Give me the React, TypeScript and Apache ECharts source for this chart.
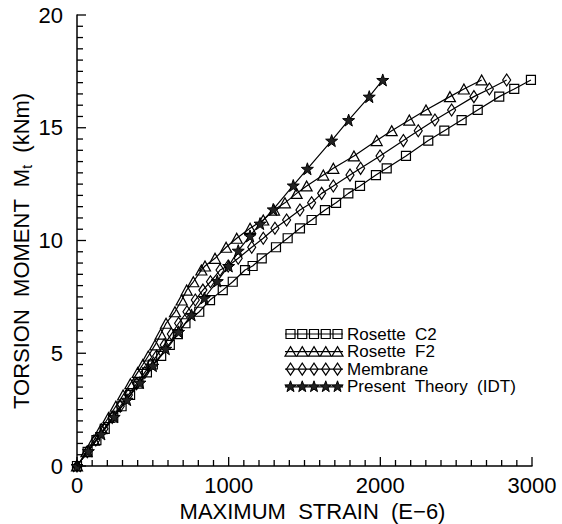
import React, { useEffect, useRef } from "react";
import * as echarts from "echarts";

// Common load levels (torsion moment, kNm) for measured series
const momentLevels = [0, 0.63, 1.15, 1.65, 2.15, 2.65, 3.15, 3.65, 4.15, 4.5, 4.88, 5.37, 5.85, 6.33, 6.84, 7.36, 7.8, 8.17, 8.69, 8.87, 9.21, 9.7, 10.1, 10.54, 10.91, 11.35, 11.67, 12.09, 12.42, 12.9, 13.2, 13.75, 14.43, 14.87, 15.34, 15.79, 16.38, 16.72, 17.12];

const rosetteC2Strain = [0, 70, 128, 183, 239, 294, 350, 405, 461, 500, 555, 612, 665, 715, 806, 877, 961, 1027, 1108, 1158, 1218, 1312, 1389, 1470, 1547, 1635, 1708, 1789, 1866, 1971, 2042, 2169, 2316, 2422, 2536, 2642, 2784, 2883, 2993];
const rosetteF2Strain = [0, 62, 112, 160, 208, 256, 304, 352, 400, 434, 470, 515, 552, 587, 646, 690, 723, 767, 820, 844, 910, 983, 1053, 1141, 1228, 1299, 1371, 1448, 1514, 1624, 1690, 1826, 1976, 2075, 2191, 2301, 2459, 2551, 2668];
const membraneStrain = [0, 68, 124, 178, 232, 285, 339, 393, 447, 485, 525, 575, 622, 670, 725, 780, 830, 880, 943, 997, 1063, 1152, 1228, 1305, 1382, 1470, 1547, 1613, 1690, 1800, 1870, 1998, 2152, 2250, 2360, 2470, 2617, 2719, 2833];

const theoryStrain = [0, 75, 160, 245, 330, 415, 500, 585, 670, 755, 840, 925, 1000, 1063, 1141, 1207, 1294, 1426, 1519, 1679, 1791, 1927, 2016];
const theoryMoment = [0, 0.66, 1.42, 2.18, 2.94, 3.7, 4.45, 5.2, 5.95, 6.7, 7.45, 8.2, 8.87, 9.55, 10.2, 10.75, 11.38, 12.44, 13.18, 14.43, 15.34, 16.38, 17.12];

const seriesNames = ["Rosette  C2", "Rosette  F2", "Membrane", "Present  Theory  (IDT)"];
const xTicks = [0, 1000, 2000, 3000];
const yTicks = [0, 5, 10, 15, 20];
const xMinorStep = 100;
const yMinorStep = 0.5;

const FONT = "Liberation Sans, Arial, sans-serif";
const STAR_PATH =
  "path://M10,0 L12.35,6.76 L19.51,6.91 L13.8,11.24 L15.88,18.09 L10,14 L4.12,18.09 L6.2,11.24 L0.49,6.91 L7.65,6.76 Z";

function starPoints(cx: number, cy: number, r: number): number[][] {
  const pts: number[][] = [];
  for (let i = 0; i < 10; i++) {
    const a = -Math.PI / 2 + (i * Math.PI) / 5;
    const rr = i % 2 === 0 ? r : r * 0.4;
    pts.push([cx + rr * Math.cos(a), cy + rr * Math.sin(a)]);
  }
  return pts;
}

function legendMarker(kind: number, cx: number, cy: number): any {
  const style = { fill: "none", stroke: "#000", lineWidth: 1.2 };
  if (kind === 0) return { type: "rect", shape: { x: cx - 4.5, y: cy - 4.5, width: 9, height: 9 }, style };
  if (kind === 1)
    return { type: "polygon", shape: { points: [[cx, cy - 5], [cx + 5.5, cy + 4.5], [cx - 5.5, cy + 4.5]] }, style };
  if (kind === 2)
    return { type: "polygon", shape: { points: [[cx, cy - 6], [cx + 4, cy], [cx, cy + 6], [cx - 4, cy]] }, style };
  return { type: "polygon", shape: { points: starPoints(cx, cy, 6) }, style: { fill: "#222", stroke: "#000", lineWidth: 1 } };
}

export default function App() {
  const ref = useRef<HTMLDivElement>(null);
  useEffect(() => {
    if (!ref.current) return;
    const chart = echarts.init(ref.current, undefined, { renderer: "svg" });

    const mk = (xs: number[], ys: number[]) => xs.map((x, i) => [x, ys[i]]);
    const lineStyle = { color: "#000", width: 1.2 };
    const itemStyle = { color: "rgba(255,255,255,0)", borderColor: "#000", borderWidth: 1.2 };

    const legendX = 285;
    const legendY0 = 334;
    const legendDy = 17.6;
    const graphics: any[] = [];
    seriesNames.forEach((name, k) => {
      const y = legendY0 + k * legendDy;
      graphics.push({ type: "line", shape: { x1: legendX, y1: y, x2: legendX + 58, y2: y }, style: { stroke: "#000", lineWidth: 1.2 } });
      for (let j = 0; j < 5; j++) graphics.push(legendMarker(k, legendX + 5.5 + j * 11.75, y));
      graphics.push({
        type: "text",
        x: legendX + 62,
        y,
        style: { text: name, fill: "#000", font: `17px ${FONT}`, verticalAlign: "middle" },
      });
    });
    // Y axis title (rotated, with subscript t)
    graphics.push({
      type: "text",
      x: 21,
      y: 251,
      rotation: Math.PI / 2,
      style: {
        text: "{a|TORSION  MOMENT  M}{s|t}{a|  (kNm)}",
        align: "center",
        verticalAlign: "middle",
        fill: "#000",
        rich: {
          a: { fontFamily: FONT, fontSize: 22, fill: "#000", lineHeight: 26 },
          s: { fontFamily: FONT, fontSize: 14, fill: "#000", lineHeight: 26, verticalAlign: "bottom" },
        },
      },
    });

    chart.setOption({
      animation: false,
      grid: { left: 77, right: 30, top: 15, bottom: 58, containLabel: false, outerBoundsMode: "none" },
      xAxis: {
        type: "value",
        min: 0,
        max: 3000,
        interval: 1000,
        name: "MAXIMUM  STRAIN  (E\u22126)",
        nameLocation: "middle",
        nameGap: 34,
        nameTextStyle: { color: "#000", fontFamily: FONT, fontSize: 22, padding: [0, 0, 0, 16] },
        axisLine: { show: true, lineStyle: { color: "#000", width: 1.5 } },
        axisTick: { show: false },
        minorTick: { show: false },
        splitLine: { show: false },
        axisLabel: {
          color: "#000",
          fontFamily: FONT,
          fontSize: 22,
          margin: 8,
          formatter: (v: number) => (xTicks.includes(v) ? String(v) : ""),
        },
      },
      yAxis: {
        type: "value",
        min: 0,
        max: 20,
        interval: 5,
        axisLine: { show: true, lineStyle: { color: "#000", width: 1.5 } },
        axisTick: { show: false },
        minorTick: { show: false },
        splitLine: { show: false },
        axisLabel: {
          color: "#000",
          fontFamily: FONT,
          fontSize: 22,
          margin: 14,
          formatter: (v: number) => (yTicks.includes(v) ? String(v) : ""),
        },
      },
      graphic: graphics,
      series: [
        {
          name: seriesNames[0],
          type: "line",
          data: mk(rosetteC2Strain, momentLevels),
          symbol: "rect",
          symbolSize: 9,
          showAllSymbol: true,
          lineStyle,
          itemStyle,
        },
        {
          name: seriesNames[1],
          type: "line",
          data: mk(rosetteF2Strain, momentLevels),
          symbol: "triangle",
          symbolSize: [11, 10],
          showAllSymbol: true,
          lineStyle,
          itemStyle,
        },
        {
          name: seriesNames[2],
          type: "line",
          data: mk(membraneStrain, momentLevels),
          symbol: "diamond",
          symbolSize: [8, 12],
          showAllSymbol: true,
          lineStyle,
          itemStyle,
        },
        {
          name: seriesNames[3],
          type: "line",
          data: mk(theoryStrain, theoryMoment),
          symbol: STAR_PATH,
          symbolSize: 12,
          showAllSymbol: true,
          lineStyle,
          itemStyle: { color: "#222", borderColor: "#000", borderWidth: 1 },
        },
      ],
    });

    // Inward axis ticks, positioned through the chart's own scales
    const tickGraphics: any[] = [];
    for (let v = 0; v <= 3000; v += xMinorStep) {
      const p = chart.convertToPixel({ gridIndex: 0 }, [v, 0]) as number[];
      if (!p) continue;
      const len = v % 1000 === 0 ? 9 : 6;
      tickGraphics.push({
        type: "line",
        z: 10,
        shape: { x1: p[0], y1: p[1], x2: p[0], y2: p[1] - len },
        style: { stroke: "#000", lineWidth: 1.3 },
      });
    }
    for (let k = 0; k <= 40; k++) {
      const v = k * yMinorStep;
      const p = chart.convertToPixel({ gridIndex: 0 }, [0, v]) as number[];
      if (!p) continue;
      const len = k % 10 === 0 ? 9 : 6;
      tickGraphics.push({
        type: "line",
        z: 10,
        shape: { x1: p[0], y1: p[1], x2: p[0] + len, y2: p[1] },
        style: { stroke: "#000", lineWidth: 1.3 },
      });
    }
    chart.setOption({ graphic: [...graphics, ...tickGraphics] });

    return () => chart.dispose();
  }, []);

  return (
    <div
      ref={ref}
      style={{ position: "absolute", left: 0, top: 0, width: 562, height: 524, background: "#fff" }}
    />
  );
}
